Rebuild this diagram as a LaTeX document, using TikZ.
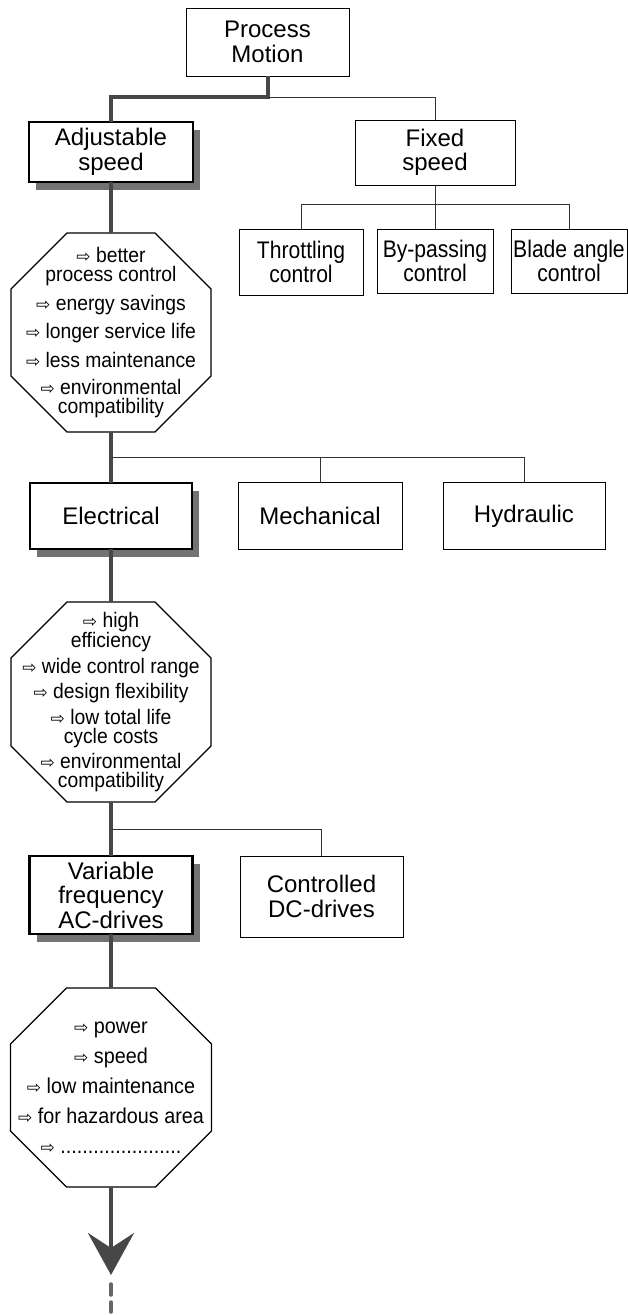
\documentclass[tikz,border=0pt]{standalone}
\usepackage{fontspec}
\setmainfont{Liberation Sans}
\newfontfamily\condfont[FakeStretch=0.88]{Liberation Sans}
\newfontfamily\octfont[FakeStretch=0.92]{Liberation Sans}
\newfontfamily\arrowfont{DejaVu Sans}
\usetikzlibrary{calc,shadows,arrows.meta}

\newcommand{\itemarrow}{{\arrowfont\fontsize{17}{17}\selectfont ⇨}}
\newcommand{\octcut}{56}
% octagon drawn on the frame of a named node
\newcommand{\octframe}[1]{%
  \draw[octline] ($(#1.north west)+(\octcut,0)$) -- ($(#1.north east)+(-\octcut,0)$)
    -- ($(#1.north east)+(0,\octcut)$) -- ($(#1.south east)+(0,-\octcut)$)
    -- ($(#1.south east)+(-\octcut,0)$) -- ($(#1.south west)+(\octcut,0)$)
    -- ($(#1.south west)+(0,-\octcut)$) -- ($(#1.north west)+(0,\octcut)$) -- cycle;}

\begin{document}
\begin{tikzpicture}[x=1pt,y=-1pt,
    plainbox/.style={draw, line width=0.9pt, align=center, inner sep=2pt, outer sep=0pt, font=\fontsize{24}{24.5}\selectfont},
    smallbox/.style={plainbox, font=\condfont\fontsize{24}{24.5}\selectfont},
    mainbox/.style={plainbox, line width=2.6pt, fill=white, drop shadow={shadow xshift=7pt, shadow yshift=-8pt, fill=black!55, opacity=1}},
    octnode/.style={align=center, inner sep=0pt, outer sep=0pt, minimum width=200pt, minimum height=199pt},
    octline/.style={line width=1.3pt},
    thickline/.style={line width=4pt, draw=black!72},
    thinline/.style={line width=0.8pt, draw=black!80},
    dashline/.style={line width=3.5pt, draw=black!60, line cap=round, dash pattern=on 11pt off 7pt}]
    \useasboundingbox (0,0) rectangle (628,1315);

    \node[plainbox, minimum width=163pt, minimum height=68pt] (pm) at (267.5,42) {Process\\Motion};
    \node[mainbox, minimum width=164pt, minimum height=60pt] (adj) at (111,152) {Adjustable\\speed}; \node[plainbox, minimum width=160pt, minimum height=65pt] (fixed) at (435,152.5) {Fixed\\speed};
    \node[smallbox, minimum width=124pt, minimum height=66pt] (throttle) at (301,262) {Throttling\\control}; \node[smallbox, minimum width=116pt, minimum height=64pt] (bypass) at (435,261) {By-passing\\control}; \node[smallbox, minimum width=116pt, minimum height=64pt] (blade) at (569,261) {Blade angle\\control};

    \node[octnode, font=\octfont\fontsize{21}{19}\selectfont] (adjoct) at (111,332.5) {\itemarrow\ better\\ process control\\[8pt] \itemarrow\ energy savings\\[8pt] \itemarrow\ longer service life\\[8pt] \itemarrow\ less maintenance\\[8pt] \itemarrow\ environmental\\ compatibility};
    \node[mainbox, minimum width=162pt, minimum height=66pt] (elec) at (111,516) {Electrical}; \node[plainbox, minimum width=164pt, minimum height=67pt] (mech) at (320,516) {Mechanical}; \node[plainbox, minimum width=162pt, minimum height=67pt] (hydr) at (524,516) {Hydraulic};

    \node[octnode, minimum height=200pt, font=\octfont\fontsize{21}{19}\selectfont] (elecoct) at (111,702) {\itemarrow\ high\\ efficiency\\[5pt] \itemarrow\ wide control range\\[5pt] \itemarrow\ design flexibility\\[5pt] \itemarrow\ low total life\\ cycle costs\\[5pt] \itemarrow\ environmental\\ compatibility};
    \node[mainbox, minimum width=163pt, minimum height=78pt] (acdrv) at (111,895) {Variable\\frequency\\AC-drives}; \node[plainbox, minimum width=163pt, minimum height=81pt] (dcdrv) at (321.5,896.5) {Controlled\\DC-drives};

    \node[octnode, minimum width=201pt, font=\octfont\fontsize{21.5}{30}\selectfont] (acoct) at (111,1087.5) {\itemarrow\ power\\ \itemarrow\ speed\\ \itemarrow\ low maintenance\\ \itemarrow\ for hazardous area\\ \itemarrow\ ......................};
    \coordinate (tip) at (111,1275); \coordinate (dashend) at (111,1312);

    \octframe{adjoct} \octframe{elecoct} \octframe{acoct}

    \draw[thickline] (pm.south) -- ++(0,21) -| (adj.north); \draw[thinline] (pm.south) ++(0,21) -| (fixed.north);
    \draw[thinline] (fixed.south) -- ++(0,19) -| (throttle.north); \draw[thinline] (fixed.south) -- (bypass.north); \draw[thinline] (fixed.south) ++(0,19) -| (blade.north);
    \draw[thickline] (adj.south) -- (adjoct.north); \draw[thickline] (adjoct.south) -- (elec.north);
    \draw[thinline] (adjoct.south) ++(0,25) -| (mech.north); \draw[thinline] (adjoct.south) ++(0,25) -| (hydr.north);
    \draw[thickline] (elec.south) -- (elecoct.north); \draw[thickline] (elecoct.south) -- (acdrv.north);
    \draw[thinline] (elecoct.south) ++(0,27) -| (dcdrv.north);
    \draw[thickline] (acdrv.south) -- (acoct.north);
    \draw[thickline, -{Stealth[length=42pt, width=46pt, inset=15pt]}] (acoct.south) -- (tip);
    \draw[dashline] (tip) ++(0,9) -- (dashend);
\end{tikzpicture}
\end{document}
